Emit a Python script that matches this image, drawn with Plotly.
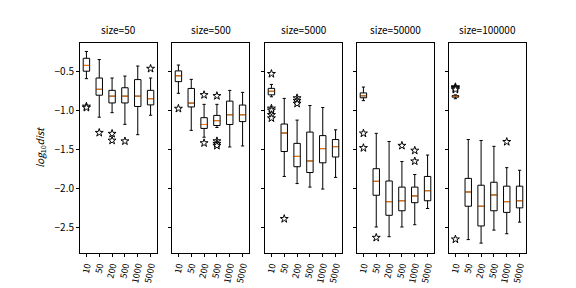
import plotly.graph_objects as go

categories = ["10", "50", "200", "500", "1000", "5000"]
panel_titles = ["size=50", "size=500", "size=5000", "size=50000", "size=100000"]

# per panel: lower whisker, q1, median, q3, upper whisker, outliers per box
low_50 = [-0.595, -1.087, -1.029, -1.178, -1.31, -1.062]
q1_50 = [-0.50, -0.806, -0.905, -0.905, -0.95, -0.93]
med_50 = [-0.426, -0.731, -0.818, -0.818, -0.818, -0.851]
q3_50 = [-0.335, -0.587, -0.744, -0.711, -0.607, -0.744]
high_50 = [-0.248, -0.351, -0.587, -0.562, -0.434, -0.587]
out_50 = [[-0.95, -0.965], [-1.285], [-1.297, -1.384], [-1.393], [], [-0.467]]

low_500 = [-0.782, -1.255, -1.342, -1.218, -1.467, -1.454]
q1_500 = [-0.633, -0.956, -1.23, -1.193, -1.18, -1.143]
med_500 = [-0.558, -0.907, -1.18, -1.131, -1.056, -1.056]
q3_500 = [-0.496, -0.72, -1.093, -1.064, -0.882, -0.932]
high_500 = [-0.421, -0.604, -0.923, -0.923, -0.745, -0.77]
out_500 = [[-0.977], [], [-0.803, -1.417], [-0.815, -1.392, -1.425, -1.45], [], []]

low_5000 = [-0.826, -1.843, -1.934, -1.979, -2.004, -1.855]
q1_5000 = [-0.802, -1.525, -1.719, -1.793, -1.669, -1.595]
med_5000 = [-0.756, -1.289, -1.587, -1.645, -1.488, -1.463]
q3_5000 = [-0.719, -1.174, -1.421, -1.277, -1.322, -1.372]
high_5000 = [-0.669, -0.847, -1.124, -0.938, -0.963, -1.248]
out_5000 = [[-0.533, -0.975, -1.0, -1.058, -1.099], [-2.384], [-0.843, -0.876, -0.913], [], [], []]

low_50000 = [-0.876, -2.488, -2.612, -2.488, -2.459, -2.252]
q1_50000 = [-0.839, -2.083, -2.339, -2.281, -2.178, -2.153]
med_50000 = [-0.814, -1.905, -2.165, -2.153, -2.091, -2.025]
q3_50000 = [-0.777, -1.744, -1.901, -1.979, -1.979, -1.843]
high_50000 = [-0.702, -1.293, -1.397, -1.653, -1.818, -1.57]
out_50000 = [[-1.293, -1.479], [-2.624], [], [-1.45], [-1.512, -1.649], []]

low_100000 = [-0.851, -2.649, -2.694, -2.528, -2.574, -2.426]
q1_100000 = [-0.831, -2.223, -2.475, -2.281, -2.302, -2.244]
med_100000 = [-0.818, -2.041, -2.223, -2.079, -2.165, -2.153]
q3_100000 = [-0.81, -1.868, -1.955, -1.917, -1.967, -1.967]
high_100000 = [-0.802, -1.372, -1.384, -1.459, -1.731, -1.764]
out_100000 = [[-0.702, -0.712, -0.722, -0.735, -2.645], [], [], [], [-1.401], []]

y_tickvals = [-0.5, -1.0, -1.5, -2.0, -2.5]
y_ticktext = ["\u22120.5", "\u22121.0", "\u22121.5", "\u22122.0", "\u22122.5"]

panels = [
    (low_50, q1_50, med_50, q3_50, high_50, out_50),
    (low_500, q1_500, med_500, q3_500, high_500, out_500),
    (low_5000, q1_5000, med_5000, q3_5000, high_5000, out_5000),
    (low_50000, q1_50000, med_50000, q3_50000, high_50000, out_50000),
    (low_100000, q1_100000, med_100000, q3_100000, high_100000, out_100000),
]

FONT = "Noto Sans CJK SC"
W, H = 576, 288
ML, MR, MT, MB = 72, 58, 35, 36
plot_w = W - ML - MR
starts = [72, 164, 257, 349, 441]
pw = 77
box_w = 0.5

fig = go.Figure()
positions = list(range(len(categories)))

for p, (lo, q1, md, q3, hi, outs) in enumerate(panels):
    xa = "x" if p == 0 else f"x{p+1}"
    ya = "y" if p == 0 else f"y{p+1}"
    fig.add_trace(go.Box(
        x=positions, q1=q1, median=md, q3=q3, lowerfence=lo, upperfence=hi,
        width=box_w, whiskerwidth=0.5, boxpoints=False,
        line=dict(color="black", width=1), fillcolor="rgba(255,255,255,0)",
        xaxis=xa, yaxis=ya, showlegend=False, hoverinfo="skip",
    ))
    mx, my = [], []
    for i, m in enumerate(md):
        mx += [i - box_w / 2 + 0.03, i + box_w / 2 - 0.03, None]
        my += [m, m, None]
    fig.add_trace(go.Scatter(x=mx, y=my, mode="lines",
                             line=dict(color="#ff7f0e", width=1),
                             xaxis=xa, yaxis=ya, showlegend=False, hoverinfo="skip"))
    ox, oy = [], []
    for i, o in enumerate(outs):
        ox += [i] * len(o)
        oy += o
    fig.add_trace(go.Scatter(x=ox, y=oy, mode="markers",
                             marker=dict(symbol="star", size=6, color="white",
                                         line=dict(color="black", width=1)),
                             xaxis=xa, yaxis=ya, showlegend=False, hoverinfo="skip"))

    d0 = (starts[p] - ML) / plot_w
    d1 = (starts[p] + pw - ML) / plot_w
    xkey = "xaxis" if p == 0 else f"xaxis{p+1}"
    ykey = "yaxis" if p == 0 else f"yaxis{p+1}"
    fig.layout[xkey] = dict(
        domain=[d0, d1], anchor=ya, range=[-0.5, 5.5],
        tickmode="array", tickvals=positions, ticktext=categories,
        tickangle=-78, ticks="outside", ticklen=3, tickcolor="black",
        showline=True, mirror=True, linecolor="black", linewidth=1,
        showgrid=False, zeroline=False,
        tickfont=dict(family=FONT, size=9, color="black"),
    )
    fig.layout[ykey] = dict(
        domain=[0, 1], anchor=xa, range=[-2.82, -0.14],
        tickmode="array", tickvals=y_tickvals, ticktext=y_ticktext,
        showticklabels=(p == 0),
        ticks="outside", ticklen=3, tickcolor="black",
        showline=True, mirror=True, linecolor="black", linewidth=1,
        showgrid=False, zeroline=False,
        tickfont=dict(family=FONT, size=10, color="black"),
    )
    fig.add_annotation(text=panel_titles[p], xref=f"{xa} domain", yref="paper",
                       x=0.5, y=1.0, yshift=4, xanchor="center", yanchor="bottom",
                       showarrow=False, font=dict(family=FONT, size=10, color="black"))

fig.layout.yaxis.title = dict(text="<i>log</i><sub>10</sub><i>dist</i>",
                              font=dict(family=FONT, size=10, color="black"), standoff=8)

fig.update_layout(width=W, height=H, margin=dict(l=ML, r=MR, t=MT, b=MB),
                  plot_bgcolor="white", paper_bgcolor="white")

fig.write_html("out.html")
